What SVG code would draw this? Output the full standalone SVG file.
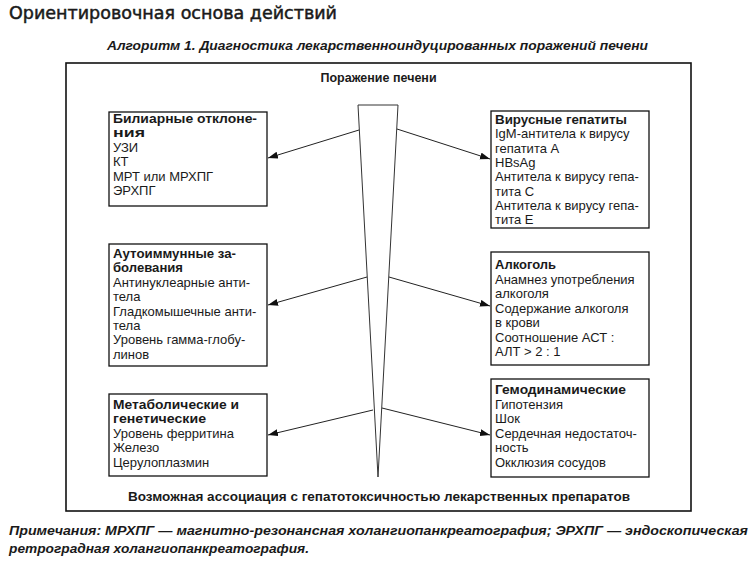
<svg xmlns="http://www.w3.org/2000/svg" width="756" height="567" viewBox="0 0 756 567">
<defs>
<marker id="ah" markerUnits="userSpaceOnUse" markerWidth="11" markerHeight="8" refX="10" refY="3.5" orient="auto">
<path d="M0,0 L10,3.5 L0,7 z" fill="#111"/>
</marker>
<style>
text{font-family:"Liberation Sans",Arial,sans-serif;fill:#1a1a1a}
.b{font-size:13px}
.h{font-size:13px;font-weight:bold}
.box{fill:#fff;stroke:#111;stroke-width:1.3}
.con{stroke:#222;stroke-width:1;fill:none;marker-end:url(#ah)}
</style>
</defs>
<rect width="756" height="567" fill="#fff"/>
<text x="9" y="19" font-size="18" textLength="328" lengthAdjust="spacingAndGlyphs" stroke="#1a1a1a" stroke-width="0.5" style="font-family:'DejaVu Sans','Liberation Sans',sans-serif">Ориентировочная основа действий</text>
<text x="107" y="50" font-size="12.5" font-weight="bold" font-style="italic" textLength="541" lengthAdjust="spacingAndGlyphs">Алгоритм 1. Диагностика лекарственноиндуцированных поражений печени</text>
<rect x="66" y="63" width="625" height="448" fill="none" stroke="#111" stroke-width="1.6"/>
<text x="378.5" y="82" text-anchor="middle" font-size="12.5" font-weight="bold">Поражение печени</text>
<g id="wedge">
<polygon points="358,105 398,105 378,477" fill="#fff" stroke="#333" stroke-width="1"/>
</g>
<g id="connectors">
<line class="con" x1="359" y1="130" x2="268" y2="158"/>
<line class="con" x1="397" y1="129" x2="490" y2="159"/>
<line class="con" x1="367" y1="277" x2="268" y2="305"/>
<line class="con" x1="389" y1="277" x2="490" y2="306"/>
<line class="con" x1="373" y1="410" x2="268" y2="435"/>
<line class="con" x1="382" y1="408" x2="490" y2="435"/>
</g>
<g id="biliary">
<rect class="box" x="109" y="112" width="158" height="94"/>
<text class="h" x="113" y="123" textLength="144" lengthAdjust="spacingAndGlyphs">Билиарные отклоне-</text>
<text class="h" x="113" y="137.4" textLength="32" lengthAdjust="spacingAndGlyphs">ния</text>
<text class="b" x="113" y="151.8">УЗИ</text>
<text class="b" x="113" y="166.2">КТ</text>
<text class="b" x="113" y="180.6">МРТ или МРХПГ</text>
<text class="b" x="113" y="195">ЭРХПГ</text>
</g>
<g id="viral">
<rect class="box" x="491" y="111" width="158" height="117"/>
<text class="h" x="495" y="124" textLength="132" lengthAdjust="spacingAndGlyphs">Вирусные гепатиты</text>
<text class="b" x="495" y="138.3">IgM-антитела к вирусу</text>
<text class="b" x="495" y="152.6">гепатита А</text>
<text class="b" x="495" y="166.9">HBsAg</text>
<text class="b" x="495" y="181.2">Антитела к вирусу гепа-</text>
<text class="b" x="495" y="195.5">тита С</text>
<text class="b" x="495" y="209.8">Антитела к вирусу гепа-</text>
<text class="b" x="495" y="224.1">тита Е</text>
</g>
<g id="autoimmune">
<rect class="box" x="109" y="244" width="158" height="122"/>
<text class="h" x="113" y="258" textLength="123" lengthAdjust="spacingAndGlyphs">Аутоиммунные за-</text>
<text class="h" x="113" y="272.4" textLength="70" lengthAdjust="spacingAndGlyphs">болевания</text>
<text class="b" x="113" y="286.8">Антинуклеарные анти-</text>
<text class="b" x="113" y="301.2">тела</text>
<text class="b" x="113" y="315.6">Гладкомышечные анти-</text>
<text class="b" x="113" y="330">тела</text>
<text class="b" x="113" y="344.4">Уровень гамма-глобу-</text>
<text class="b" x="113" y="358.8">линов</text>
</g>
<g id="alcohol">
<rect class="box" x="491" y="252" width="158" height="113"/>
<text class="h" x="495" y="269" textLength="61" lengthAdjust="spacingAndGlyphs">Алкоголь</text>
<text class="b" x="495" y="283.5">Анамнез употребления</text>
<text class="b" x="495" y="298">алкоголя</text>
<text class="b" x="495" y="312.5">Содержание алкоголя</text>
<text class="b" x="495" y="327">в крови</text>
<text class="b" x="495" y="341.5">Соотношение АСТ :</text>
<text class="b" x="495" y="356">АЛТ &gt; 2 : 1</text>
</g>
<g id="metabolic">
<rect class="box" x="109" y="394" width="158" height="82"/>
<text class="h" x="113" y="409" textLength="126" lengthAdjust="spacingAndGlyphs">Метаболические и</text>
<text class="h" x="113" y="423.4" textLength="93" lengthAdjust="spacingAndGlyphs">генетические</text>
<text class="b" x="113" y="437.8">Уровень ферритина</text>
<text class="b" x="113" y="452.2">Железо</text>
<text class="b" x="113" y="466.6">Церулоплазмин</text>
</g>
<g id="hemodynamic">
<rect class="box" x="491" y="379" width="158" height="98"/>
<text class="h" x="495" y="394" textLength="131" lengthAdjust="spacingAndGlyphs">Гемодинамические</text>
<text class="b" x="495" y="408.6">Гипотензия</text>
<text class="b" x="495" y="423.2">Шок</text>
<text class="b" x="495" y="437.8">Сердечная недостаточ-</text>
<text class="b" x="495" y="452.4">ность</text>
<text class="b" x="495" y="467">Окклюзия сосудов</text>
</g>
<text x="128" y="501" font-size="12.5" font-weight="bold" textLength="502" lengthAdjust="spacingAndGlyphs">Возможная ассоциация с гепатотоксичностью лекарственных препаратов</text>
<text x="9" y="535" font-size="12.5" font-weight="bold" font-style="italic" textLength="739" lengthAdjust="spacingAndGlyphs">Примечания: МРХПГ — магнитно-резонансная холангиопанкреатография; ЭРХПГ — эндоскопическая</text>
<text x="9" y="553" font-size="12.5" font-weight="bold" font-style="italic" textLength="300" lengthAdjust="spacingAndGlyphs">ретроградная холангиопанкреатография.</text>
</svg>
